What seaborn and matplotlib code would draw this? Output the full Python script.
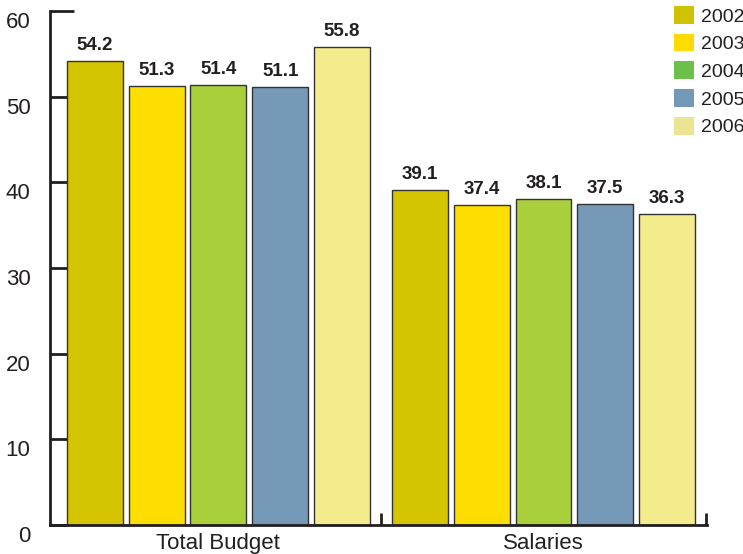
import matplotlib
matplotlib.use("Agg")
import matplotlib.pyplot as plt
from matplotlib.patches import Patch
from matplotlib.transforms import ScaledTranslation
import seaborn as sns
import pandas as pd

categories = ["Total Budget", "Salaries"]
years = ["2002", "2003", "2004", "2005", "2006"]
total_budget = [54.2, 51.3, 51.4, 51.1, 55.8]
salaries = [39.1, 37.4, 38.1, 37.5, 36.3]

bar_colors = ["#d4c500", "#fedd00", "#a9cf3b", "#7699b7", "#f3eb8c"]
legend_colors = ["#cfc200", "#fedc00", "#6cc04a", "#7398b8", "#ebe493"]
ink = "#231f20"

df = pd.DataFrame({
    "category": [categories[0]] * len(years) + [categories[1]] * len(years),
    "year": years + years,
    "value": total_budget + salaries,
})

sns.set_style("white")
plt.rcParams["font.family"] = ["Liberation Sans", "DejaVu Sans"]

fig = plt.figure(figsize=(7.43, 5.54), dpi=100)
ax = fig.add_axes([50 / 743, 1 - 525 / 554, (707 - 50) / 743, (525 - 11) / 554])

sns.barplot(data=df, x="category", y="value", hue="year", palette=bar_colors,
            saturation=1, width=0.95, gap=0.095, edgecolor="#333333",
            linewidth=1.0, legend=False, ax=ax)

for container in ax.containers:
    ax.bar_label(container, fmt="%.1f", padding=5, fontsize=13.5,
                 fontweight="bold", color=ink)

ax.set_xlim(-0.518, 1.503)
ax.set_ylim(0, 60)
ax.set_yticks([0, 10, 20, 30, 40, 50, 60])
ax.set_xlabel("")
ax.set_ylabel("")

for side in ["top", "right"]:
    ax.spines[side].set_visible(False)
for side in ["left", "bottom"]:
    ax.spines[side].set_color(ink)
    ax.spines[side].set_linewidth(2)

ax.tick_params(axis="y", left=True, direction="in", length=12, width=2,
               color=ink, pad=14, labelsize=16, labelcolor=ink)
ax.yaxis.get_major_ticks()[-1].tick1line.set_markersize(17)
ax.tick_params(axis="x", which="major", bottom=True, length=0, pad=6,
               labelsize=16, labelcolor=ink)
ax.set_xticks([0.5, 1.5], minor=True)
ax.tick_params(axis="x", which="minor", bottom=True, direction="in",
               length=9, width=2, color=ink)

shift = ScaledTranslation(0, -0.09, fig.dpi_scale_trans)
for lab in ax.get_yticklabels():
    lab.set_transform(lab.get_transform() + shift)

handles = [Patch(facecolor=c, edgecolor="none", label=y)
           for c, y in zip(legend_colors, years)]
fig.legend(handles=handles, loc="upper left", bbox_to_anchor=(674 / 743, 1 - 6 / 554),
           frameon=False, fontsize=14, handlelength=1.03, handleheight=1.03,
           handletextpad=0.35, labelspacing=0.42, labelcolor=ink,
           borderaxespad=0, borderpad=0)

fig.savefig("out.png", dpi=100)
